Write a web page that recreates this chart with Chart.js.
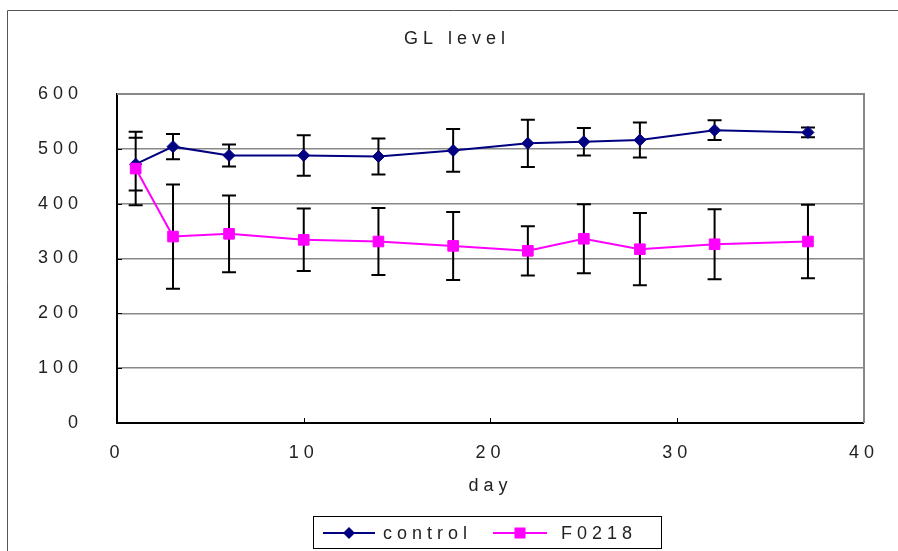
<!DOCTYPE html>
<html>
<head>
<meta charset="utf-8">
<title>GL level</title>
<script src="https://cdn.jsdelivr.net/npm/chart.js@4/dist/chart.umd.min.js"></script>
<style>
  html, body { margin: 0; padding: 0; background: #fff; }
  canvas { display: block; }
</style>
</head>
<body>
<canvas id="chart" width="898" height="551"></canvas>
<script>
// Sampling days and GL readings (mean with symmetric error)
const days = [1, 3, 6, 10, 14, 18, 22, 25, 28, 32, 37];
const controlMean = [472, 504, 488, 488, 486, 497, 510, 513, 516, 534, 530];
const controlErr  = [48, 23, 20, 37, 33, 39, 43, 25, 32, 18, 9];
const f0218Mean   = [464, 340, 345, 334, 331, 323, 314, 336, 317, 326, 331];
const f0218Err    = [67, 95, 70, 57, 61, 62, 45, 63, 66, 64, 67];
const seriesNames = ['control', 'F0218'];
const chartTitle = 'GL level';
const xTitle = 'day';

const NAVY = '#000080';
const MAGENTA = '#ff00ff';
const FONT = 'Liberation Sans, Arial, sans-serif';
const FONT_SIZE = 18;
const SPACING = '5px';

const toPoints = (xs, ys) => xs.map((x, i) => ({ x: x, y: ys[i] }));

function setSpacing(chart) {
  if ('letterSpacing' in chart.ctx) chart.ctx.letterSpacing = SPACING;
}

// Wide letter spacing for all canvas text
const spacingPlugin = {
  id: 'spacing',
  beforeInit: setSpacing,
  beforeUpdate: setSpacing,
  beforeLayout: setSpacing,
  beforeDraw: setSpacing
};

// Outer frame, plot border and inward tick marks
const framePlugin = {
  id: 'frame',
  beforeDraw(chart) {
    const ctx = chart.ctx;
    ctx.save();
    ctx.fillStyle = '#fff';
    ctx.fillRect(0, 0, chart.width, chart.height);
    ctx.strokeStyle = '#555';
    ctx.lineWidth = 1;
    ctx.beginPath();
    ctx.moveTo(7.5, chart.height + 2);
    ctx.lineTo(7.5, 10.5);
    ctx.lineTo(chart.width + 2, 10.5);
    ctx.stroke();
    ctx.restore();
  },
  afterDraw(chart) {
    const ctx = chart.ctx;
    const a = chart.chartArea;
    const xs = chart.scales.x, ys = chart.scales.y;
    ctx.save();
    ctx.strokeStyle = '#888';
    ctx.lineWidth = 2;
    ctx.beginPath();
    ctx.moveTo(a.left, a.top);
    ctx.lineTo(a.right, a.top);
    ctx.lineTo(a.right, a.bottom);
    ctx.stroke();
    ctx.strokeStyle = '#000';
    ctx.lineWidth = 1;
    ctx.beginPath();
    for (const t of xs.ticks) {
      if (t.value <= xs.min || t.value >= xs.max) continue;
      const px = Math.round(xs.getPixelForValue(t.value)) + 0.5;
      ctx.moveTo(px, a.bottom);
      ctx.lineTo(px, a.bottom - 5);
    }
    for (const t of ys.ticks) {
      if (t.value <= ys.min || t.value >= ys.max) continue;
      const py = Math.round(ys.getPixelForValue(t.value)) + 0.5;
      ctx.moveTo(a.left, py);
      ctx.lineTo(a.left + 5, py);
    }
    ctx.stroke();
    ctx.restore();
  }
};

// Vertical error bars with caps, drawn beneath the series
const errorBarPlugin = {
  id: 'errorBars',
  beforeDatasetsDraw(chart) {
    const ctx = chart.ctx;
    const xs = chart.scales.x, ys = chart.scales.y;
    const groups = [[controlMean, controlErr], [f0218Mean, f0218Err]];
    ctx.save();
    ctx.strokeStyle = '#000';
    ctx.lineWidth = 2;
    ctx.beginPath();
    for (const [means, errs] of groups) {
      days.forEach((d, i) => {
        const px = xs.getPixelForValue(d);
        const top = ys.getPixelForValue(means[i] + errs[i]);
        const bot = ys.getPixelForValue(means[i] - errs[i]);
        ctx.moveTo(px, top); ctx.lineTo(px, bot);
        ctx.moveTo(px - 7, top); ctx.lineTo(px + 7, top);
        ctx.moveTo(px - 7, bot); ctx.lineTo(px + 7, bot);
      });
    }
    ctx.stroke();
    ctx.restore();
  }
};

// Chart title and boxed legend
const textPlugin = {
  id: 'texts',
  afterDraw(chart) {
    const ctx = chart.ctx;
    ctx.save();
    setSpacing(chart);
    ctx.fillStyle = '#222';
    ctx.font = FONT_SIZE + 'px ' + FONT;
    ctx.textBaseline = 'middle';
    ctx.textAlign = 'center';
    ctx.fillText(chartTitle, 457, 39);

    // legend frame
    ctx.strokeStyle = '#000';
    ctx.lineWidth = 1;
    ctx.strokeRect(313.5, 516.5, 348, 32);

    const ly = 533;
    // control entry
    ctx.strokeStyle = NAVY;
    ctx.lineWidth = 2;
    ctx.beginPath(); ctx.moveTo(323, ly); ctx.lineTo(375, ly); ctx.stroke();
    ctx.fillStyle = NAVY;
    ctx.beginPath();
    ctx.moveTo(349 - 6, ly); ctx.lineTo(349, ly - 6); ctx.lineTo(349 + 6, ly); ctx.lineTo(349, ly + 6);
    ctx.closePath(); ctx.fill();
    // F0218 entry
    ctx.strokeStyle = MAGENTA;
    ctx.beginPath(); ctx.moveTo(493, ly); ctx.lineTo(547, ly); ctx.stroke();
    ctx.fillStyle = MAGENTA;
    ctx.fillRect(520 - 5.5, ly - 5.5, 11, 11);

    ctx.fillStyle = '#222';
    ctx.textAlign = 'left';
    ctx.fillText(seriesNames[0], 383, ly + 1);
    ctx.fillText(seriesNames[1], 561, ly + 1);
    ctx.restore();
  }
};

new Chart(document.getElementById('chart'), {
  type: 'line',
  data: {
    datasets: [
      {
        label: seriesNames[0],
        data: toPoints(days, controlMean),
        borderColor: NAVY,
        backgroundColor: NAVY,
        borderWidth: 2,
        pointStyle: 'rectRot',
        pointRadius: 6,
        pointBorderWidth: 1,
        tension: 0,
        order: 1
      },
      {
        label: seriesNames[1],
        data: toPoints(days, f0218Mean),
        borderColor: MAGENTA,
        backgroundColor: MAGENTA,
        borderWidth: 2,
        pointStyle: 'rect',
        pointRadius: 7.5,
        pointBorderWidth: 1,
        tension: 0,
        order: 0
      }
    ]
  },
  options: {
    responsive: false,
    animation: false,
    devicePixelRatio: 1,
    layout: { padding: { top: 94, right: 33, bottom: 0, left: 0 } },
    plugins: {
      legend: { display: false },
      title: { display: false },
      tooltip: { enabled: false }
    },
    scales: {
      x: {
        type: 'linear',
        min: 0,
        max: 40,
        ticks: { stepSize: 10, color: '#222', font: { family: FONT, size: FONT_SIZE }, padding: 19, maxRotation: 0 },
        grid: { display: false, drawTicks: false },
        border: { display: true, color: '#000', width: 2 },
        title: { display: true, text: xTitle, color: '#222', font: { family: FONT, size: FONT_SIZE }, padding: { top: 0, bottom: 54 } },
        afterFit(scale) { scale.height = 128; }
      },
      y: {
        type: 'linear',
        min: 0,
        max: 600,
        ticks: { stepSize: 100, color: '#222', font: { family: FONT, size: FONT_SIZE }, padding: 34 },
        grid: { color: '#888', lineWidth: 1.5, drawTicks: false },
        border: { display: true, color: '#000', width: 2 },
        afterFit(scale) { scale.width = 117; }
      }
    }
  },
  plugins: [spacingPlugin, framePlugin, errorBarPlugin, textPlugin]
});
</script>
</body>
</html>
